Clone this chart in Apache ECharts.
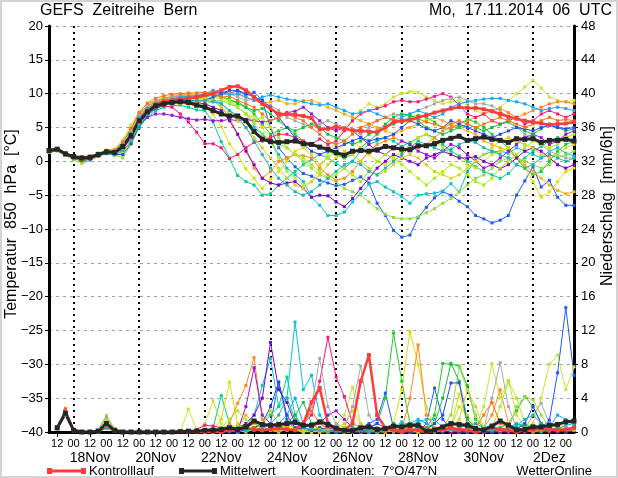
<!DOCTYPE html>
<html><head><meta charset="utf-8">
<script src="https://cdn.jsdelivr.net/npm/echarts@6/dist/echarts.min.js"></script>
<style>html,body{margin:0;padding:0;background:#fff}#c{width:618px;height:478px}</style>
</head><body><div id="c"></div>
<script>
// ---- axis / tick labels ----
const hourLabels = ['12', '00'];
const dateLabels = ['18Nov','20Nov','22Nov','24Nov','26Nov','28Nov','30Nov','2Dez'];
const startUTC = [2014, 10, 17, 6];   // 17.11.2014 06 UTC
const stepCount = 65;                  // 6-hourly steps to 03.12. 06 UTC
const categories = [];
for (let i = 0; i < stepCount; i++) {
  const d = new Date(Date.UTC(startUTC[0], startUTC[1], startUTC[2], startUTC[3] + 6 * i));
  categories.push(String(d.getUTCDate()).padStart(2,'0') + '.' + String(d.getUTCMonth()+1).padStart(2,'0') + '. ' + String(d.getUTCHours()).padStart(2,'0'));
}

// ---- temperature 850 hPa [°C] ----
const meanT = [1.6,1.8,1.1,0.7,0.5,0.6,1.0,1.4,1.3,2.2,3.8,6.0,7.3,8.2,8.5,8.7,8.8,8.7,8.3,8.0,7.5,7.0,6.7,6.7,6.0,4.4,3.3,2.9,2.8,2.9,3.0,2.6,2.5,2.1,1.8,1.3,0.9,1.5,1.6,1.5,1.7,2.2,2.0,1.8,1.7,2.3,2.3,2.6,3.1,3.4,3.7,3.1,3.35,3.6,3.25,3.1,2.8,3.35,3.25,3.35,2.8,3.1,3.1,3.25,3.0];
const ctrlT = [1.5,1.7,1.1,0.6,0.4,0.5,1.0,1.4,1.3,2.2,3.9,6.2,7.5,8.4,8.8,9.0,9.2,9.3,9.5,9.8,10.0,10.5,11.0,11.1,10.5,9.5,8.5,7.8,7.0,7.0,6.9,6.7,6.4,4.7,4.8,5.1,4.8,4.6,4.5,4.4,4.3,5.0,5.8,6.0,6.1,6.5,6.8,7.2,7.5,7.8,8.0,7.9,7.9,7.7,7.4,7.0,6.6,6.3,6.0,5.8,5.6,5.4,5.5,5.6,5.8];
const m01T = [1.3,1.6,1.1,0.6,0.5,0.6,1.1,1.6,1.6,2.8,4.8,7.0,8.2,8.9,9.3,9.5,9.6,9.5,9.3,9.6,10.0,10.3,10.1,10.4,9.8,10.2,9.0,5.0,2.0,0.5,-0.8,-1.8,-2.2,-2.8,-3.2,-3.6,-3.4,-2.8,-2.3,-3.2,-6.2,-8.0,-10.2,-11.2,-10.9,-8.3,-6.8,-5.4,-4.5,-5.0,-5.9,-6.7,-8.0,-8.5,-9.1,-8.7,-8.0,-5.0,-2.9,-0.8,-3.8,-2.8,-5.3,-6.5,-6.5];
const m02T = [1.5,1.7,1.0,0.5,0.3,0.4,0.9,1.3,1.2,2.0,3.6,5.8,7.2,8.1,8.5,8.8,9.0,9.0,8.8,9.0,9.2,8.5,7.5,6.8,6.0,5.0,4.0,3.1,1.0,-1.0,-2.0,-3.0,-5.3,-6.5,-8.0,-8.0,-7.5,-6.0,-4.8,-3.4,-3.0,-3.8,-4.5,-5.2,-6.2,-5.0,-4.8,-4.7,-4.4,-3.3,-4.5,-1.6,0.2,1.0,1.4,1.5,1.2,2.0,1.5,1.0,0.5,1.5,2.0,1.2,0.8];
const m03T = [1.6,1.8,1.2,0.7,0.4,0.5,0.8,1.1,0.9,1.4,2.8,5.0,6.5,7.5,8.0,8.2,8.3,8.0,7.6,7.5,5.8,2.9,0.5,-2.1,-3.0,-3.5,-5.0,-4.8,-3.5,-2.5,-1.5,-0.5,0.3,1.0,0.5,-0.3,-1.0,0.0,1.5,2.5,3.0,3.5,3.0,2.2,2.8,3.5,4.0,3.5,2.5,1.5,0.8,0.0,-0.8,-1.5,-2.0,-2.5,-1.8,-0.5,0.5,1.5,2.2,3.0,3.5,3.2,3.0];
const m04T = [1.7,1.9,1.2,0.8,0.6,0.7,1.1,1.5,1.5,2.5,4.2,6.5,7.8,8.6,9.0,9.2,9.5,9.6,9.7,9.5,9.8,9.5,9.2,8.5,8.0,7.0,5.5,4.0,4.5,5.0,4.0,3.0,2.5,2.0,1.5,1.0,0.5,1.0,2.0,3.0,4.0,5.0,5.5,6.0,6.5,6.8,6.5,5.8,5.0,4.8,5.5,6.2,5.8,5.0,4.0,3.0,2.0,0.5,-1.0,-2.0,-1.5,0.0,1.5,2.5,3.0];
const m05T = [1.4,1.5,0.9,0.2,-0.3,0.1,0.7,1.2,1.0,0.5,2.5,5.5,7.0,7.8,8.3,8.5,8.6,8.5,8.2,8.5,8.8,9.0,8.5,8.0,7.0,5.5,4.0,3.0,2.5,2.0,1.0,0.0,-1.0,-2.0,-2.5,-3.0,-4.0,-4.5,-5.0,-6.0,-7.0,-7.8,-8.3,-8.5,-8.5,-8.2,-7.6,-7.0,-6.2,-5.5,-4.5,-3.5,-2.5,-2.0,-1.0,0.0,0.5,0.5,0.0,-0.5,-1.0,-0.5,0.5,1.0,1.5];
const m06T = [1.5,1.8,1.2,0.7,0.6,0.7,1.2,1.7,1.8,3.2,5.4,7.4,8.5,9.0,9.2,9.3,9.3,9.2,9.0,9.0,9.5,9.2,8.8,8.0,7.0,6.5,5.0,3.0,0.5,-1.5,-2.5,-3.5,-3.0,-1.0,1.0,3.0,5.0,6.0,7.5,8.5,8.0,8.5,9.5,10.0,10.3,10.2,9.5,9.0,8.5,8.8,9.0,8.2,7.5,7.0,7.5,8.0,9.0,10.0,11.0,12.0,10.8,9.5,9.0,8.8,9.0];
const m07T = [1.6,1.7,1.1,0.6,0.4,0.5,0.9,1.3,1.1,1.9,3.6,6.2,7.6,8.3,8.6,8.7,8.6,8.4,8.2,8.0,7.0,5.1,2.6,1.0,-1.1,-2.5,-4.0,-2.6,-1.5,0.0,1.5,2.0,1.0,-0.5,0.5,1.5,2.5,3.0,2.0,1.0,0.0,-0.5,0.5,1.5,2.5,3.5,4.0,3.0,2.0,1.0,0.5,-0.5,-1.0,0.0,1.0,1.5,2.0,1.0,-1.0,-3.0,-5.3,-4.5,-3.0,-1.5,-1.0];
const m08T = [1.6,1.8,1.2,0.7,0.5,0.6,1.0,1.5,1.4,2.4,4.3,6.6,8.0,8.8,9.2,9.5,9.7,9.8,9.7,9.5,9.0,8.0,6.5,4.0,2.0,-1.0,-2.5,-1.5,0.0,0.5,1.0,0.8,0.5,-1.0,-2.0,-2.8,-2.5,-1.5,0.0,1.5,2.5,3.0,3.5,3.0,2.5,2.0,2.5,3.5,4.5,5.0,5.5,6.0,6.5,7.0,7.5,7.8,7.2,6.5,7.0,7.5,8.0,8.5,8.8,8.8,8.5];
const m09T = [1.4,1.6,1.0,0.6,0.4,0.6,1.0,1.5,1.5,2.6,4.5,6.8,8.2,9.0,9.4,9.6,9.8,9.9,9.9,10.0,10.3,10.5,10.2,9.8,9.5,9.0,8.5,8.8,9.0,8.5,8.5,9.0,9.0,8.5,8.0,7.5,7.0,6.5,6.0,5.5,5.0,4.5,4.0,4.5,5.0,5.5,6.0,6.5,6.0,5.5,5.0,4.5,4.0,3.0,2.5,2.0,1.5,0.5,-0.5,-1.5,-2.5,-3.5,-4.3,-4.8,-4.5];
const m10T = [1.5,1.6,1.0,0.6,0.5,0.6,1.0,1.4,1.2,1.8,3.4,5.6,7.0,7.8,8.2,8.0,7.0,5.8,4.3,2.6,2.6,2.0,0.4,1.0,2.0,2.8,3.0,3.5,4.0,4.0,3.5,3.0,2.5,3.3,2.5,3.0,4.5,6.0,7.0,7.5,7.8,8.2,8.8,9.0,8.8,8.8,9.2,9.6,10.0,9.5,8.3,7.0,6.5,7.0,6.0,5.5,6.0,6.5,5.5,6.0,7.0,7.5,7.0,6.5,7.0];
const m11T = [1.5,1.6,1.0,0.5,0.4,0.5,1.0,1.4,1.3,2.0,3.5,5.4,6.5,7.0,7.0,6.8,6.5,6.3,6.1,6.2,6.0,6.0,6.2,6.0,6.2,6.0,5.8,6.0,6.5,7.2,7.4,8.0,7.0,6.0,5.0,4.5,5.0,4.5,3.5,2.5,1.5,1.0,2.0,3.0,2.5,1.5,1.0,0.5,1.5,2.5,2.0,1.0,0.0,-1.0,-0.5,0.5,1.5,2.5,3.5,4.0,3.5,2.5,3.0,4.0,4.5];
const m12T = [1.5,1.7,1.0,0.5,0.3,0.4,0.9,1.3,1.2,2.0,3.6,5.8,7.2,8.1,8.5,8.8,9.0,8.9,8.7,8.5,8.0,7.5,6.0,4.0,1.5,-0.5,-2.5,-3.2,-3.5,-3.2,-3.0,-4.0,-5.3,-5.0,-5.1,-6.0,-6.7,-5.5,-4.0,-2.5,-1.0,0.0,1.0,0.5,0.0,-0.5,0.5,1.0,1.5,1.0,0.5,0.5,0.7,0.0,-0.5,-1.1,-0.5,0.5,1.5,2.0,1.5,0.5,-0.5,-1.0,-0.5];
const m13T = [1.3,1.6,1.1,0.6,0.5,0.6,1.1,1.6,1.6,2.8,4.8,7.0,8.2,8.9,9.3,9.5,9.6,9.5,9.3,9.2,9.5,9.8,10.0,9.5,9.0,9.2,8.5,8.3,7.5,6.5,6.0,5.5,5.0,5.5,6.0,5.5,5.0,4.5,4.0,5.0,6.0,6.5,7.0,6.8,7.0,7.5,8.0,8.5,9.0,9.3,9.5,9.0,8.5,8.5,8.2,7.5,6.5,5.0,4.0,3.5,2.5,1.5,1.0,0.5,0.5];
const m14T = [1.7,1.9,1.2,0.8,0.6,0.7,1.1,1.5,1.5,2.5,4.2,6.5,7.8,8.6,9.0,9.2,9.5,9.6,9.7,10.0,10.5,10.2,9.8,10.0,9.5,9.0,9.5,9.8,9.5,9.2,9.0,8.8,8.5,8.3,8.5,8.0,7.5,7.0,7.2,7.5,7.0,6.5,6.0,6.5,7.0,7.5,7.0,6.5,7.0,8.0,8.5,8.8,9.0,9.2,9.3,9.3,9.0,8.8,8.5,8.0,7.5,7.8,8.0,7.8,7.5];
const m15T = [1.6,1.8,1.1,0.6,0.4,0.5,1.0,1.4,1.3,2.3,4.0,6.3,7.6,8.5,8.9,9.1,9.3,9.4,9.5,9.8,10.0,9.6,9.0,8.8,8.0,7.5,7.8,7.0,6.0,5.0,4.5,5.0,5.5,5.0,4.0,3.5,3.0,2.5,3.0,4.0,4.5,5.5,6.5,7.0,6.8,6.0,5.0,4.5,4.0,4.5,5.0,5.5,5.0,4.5,5.0,5.5,5.8,5.0,4.5,4.0,4.8,5.5,5.0,4.5,4.8];
const m16T = [1.4,1.6,1.0,0.4,0.0,0.3,0.8,1.3,1.1,1.2,3.0,5.8,7.3,8.2,8.7,8.9,9.0,8.9,8.8,9.0,9.5,9.5,9.0,8.0,7.0,6.0,6.5,5.0,3.5,2.0,1.0,0.5,-0.5,-1.5,-2.5,-2.0,-1.0,-2.0,-3.0,-1.5,0.0,1.0,0.5,-0.5,-1.5,-2.5,-3.5,-2.5,-1.5,-0.5,-1.0,-2.0,-3.0,-3.5,-2.5,-1.0,0.0,1.0,2.0,3.0,2.5,2.0,2.5,3.5,4.0];
const m17T = [1.5,1.7,1.0,0.4,0.1,0.3,0.8,1.2,1.0,1.0,2.6,5.2,6.8,7.8,8.4,8.7,8.9,9.0,9.0,9.0,9.5,10.0,10.5,10.5,10.0,9.5,9.0,8.0,6.5,5.0,3.5,2.5,1.5,1.0,1.5,2.0,2.5,3.0,3.5,3.0,3.3,3.5,4.0,5.0,6.0,5.5,4.8,4.5,5.0,6.0,5.5,5.0,4.5,4.0,3.5,4.0,4.5,5.0,4.8,4.5,5.0,5.3,5.0,4.8,5.0];
const m18T = [1.6,1.9,1.3,0.8,0.6,0.8,1.2,1.6,1.7,2.9,4.9,7.2,8.6,9.3,9.7,9.9,10.0,10.1,10.1,10.2,10.0,9.5,9.6,9.0,8.5,8.0,7.0,6.0,6.5,7.0,6.5,6.0,5.0,4.0,3.0,2.5,3.0,4.0,5.0,5.5,6.0,6.5,6.2,5.8,6.0,6.3,5.8,5.5,5.0,5.5,6.0,5.5,5.0,5.5,6.0,6.5,6.0,5.5,5.0,5.5,6.0,6.5,6.0,6.2,6.0];
const m19T = [1.5,1.7,1.1,0.5,0.3,0.5,0.9,1.3,1.2,2.1,3.8,6.1,7.5,8.4,8.8,9.0,9.2,9.3,9.3,9.3,9.0,8.0,7.0,6.0,5.0,3.5,2.0,0.5,-1.0,-2.5,-3.5,-4.0,-3.0,-2.0,-0.5,0.5,1.5,1.0,0.0,-1.0,-2.0,-1.5,-0.5,0.5,1.0,0.5,-0.5,-1.5,-2.0,-2.5,-2.0,-1.0,0.0,1.0,2.0,3.0,3.5,3.0,2.5,2.0,1.0,0.5,1.0,2.0,2.5];
const m20T = [1.6,1.8,1.2,0.7,0.5,0.6,0.9,1.2,1.0,1.6,3.0,5.3,6.9,7.9,8.4,8.6,8.8,8.9,9.0,9.0,8.8,8.5,7.5,6.5,5.0,3.0,1.0,-1.0,-2.5,-3.5,-4.5,-5.0,-4.5,-3.5,-2.5,-1.5,-0.5,0.0,-0.5,-1.5,-2.0,-1.0,0.0,1.0,2.0,3.0,2.5,2.0,1.5,1.8,2.5,3.0,2.8,2.0,1.5,1.0,0.5,-0.5,-1.0,-0.5,0.5,1.0,0.5,0.0,0.5];

// ---- precipitation [mm/6h] ('-' = no value at start) ----
const meanP = ['-',0.5,2.2,0.2,0,0,0.1,1.0,0.2,0, 0,0,0,0,0,0,0.05,0.1,0.1,0.2, 0.2,0.3,0.5,0.3,0.6,1.3,0.9,0.8,0.9,1.0, 1.15,0.8,0.8,1.2,0.9,0.45,0.2,0.15,0.5,0.6, 0.3,0.4,0.7,0.6,0.8,0.8,0.1,0.25,0.6,1.0, 0.9,0.8,0.4,0.25,0.7,1.3,0.8,0.25,0.3,0.6, 0.6,0.8,0.9,1.2,1.3];
const ctrlP = ['-',0.5,2.4,0.2,0,0,0.1,0.8,0.2,0, 0,0,0,0,0,0,0,0,0,0, 0,0,0.2,0.3,0.5,0.3,0.2,0.3,0.5,0.3, 0.2,1.0,3.5,5.2,1.0,0.3,0.2,1.0,6.0,9.1, 2.0,0.5,0.2,0,0.3,0.2,0,0.2,0.3,0.5, 0.3,0.2,0,0.2,0.5,0.3,0.2,0,0.2,0.3, 0.5,0.3,0.2,0.3,0.5];
const m01P = ['-',0.5,2.4,0.2,0,0,0.1,1.2,0.2,0, 0,0,0,0,0,0,0,0,0,0, 0,0,0,0,0.2,0.5,0.3,1.0,5.9,1.5, 0.3,0,0.2,0.5,0.3,0,0,0,0.5,1.0, 1.5,4.6,0.5,0.2,0,0,1.0,5.2,1.5,0.3, 0,0,0.2,0,0,0.3,0.2,0,0.5,0.8, 0.5,1.4,7.0,14.7,6.7];
const m02P = ['-',0.4,2.6,0.1,0,0,0,0.8,0.1,0, 0,0,0,0,0,0,0,0,0,0, 0,0.2,0.3,0,0.5,2.0,5.5,8.7,3.0,4.0, 13.0,5.0,6.7,2.0,0.5,0.2,0,0,0,0.3, 0.2,0,0.5,1.2,0.8,1.2,1.5,1.5,0.5,0.2, 0,0,0.3,0.5,0.8,0.3,0,0.2,0.5,0.6, 0.8,0.5,1.0,1.2,1.0];
const m03P = ['-',0.5,2.7,0.2,0,0,0,0.6,0.1,0, 0,0,0,0,0,0,0,0,0,0.2, 0.5,4.3,1.0,0.2,0,0.5,1.0,2.0,3.0,6.5, 2.0,0.5,0,0.3,0.5,0,0,0,0,0, 0,0.2,0.5,0,0,0,0.2,0,0,0.5, 0.3,0,0,0,0,0,0.5,1.0,0.5,0, 0,0.3,0.5,0.2,0.5];
const m04P = ['-',0.5,2.3,0.2,0,0,0.1,1.0,0.2,0, 0,0,0,0,0,0,0,0,0,0, 0,0,0.3,0,0.5,1.0,0.5,0.3,1.0,0.5, 0.2,0.5,0,0.2,0,0,0,0,0.2,0.5, 1.0,4.0,11.7,6.0,1.0,0.3,0.5,2.0,8.1,8.0, 7.8,5.5,1.5,0.5,0.2,0.5,1.0,2.5,4.2,3.0, 1.0,0.5,0.2,0.5,0.3];
const m05P = ['-',0.6,2.5,0.3,0,0,0.2,1.5,0.3,0, 0,0,0,0,0,0,0,0,0,0, 0,0.3,0.5,0.2,0,0.3,0.5,0.2,0,0.3, 0.5,0,0.2,0,0,0.3,0,0,0.2,0, 0,0.3,0,0,0.5,0,0,0.3,0.5,2.0, 7.7,5.0,2.0,0.5,0.3,0.5,0.3,3.0,4.2,3.8, 2.0,0.5,0.3,0,0.2];
const m06P = ['-',0.5,2.6,0.2,0,0,0.3,2.0,0.4,0, 0,0,0,0,0,0,0,2.7,0.3,1.0, 3.7,1.0,0.2,0,0.3,0.5,0.5,0.3,0.2,0.5, 0.3,0,0,0.2,0.5,0.8,2.0,5.3,1.0,0.3, 0,0,0.3,0.5,0,0,0.2,0.3,0.5,0.2, 0,0.3,0.5,3.0,8.1,4.0,6.1,2.0,0.5,1.0, 4.0,8.0,9.1,5.0,7.7];
const m07P = ['-',0.4,2.4,0.2,0,0,0.1,0.8,0.1,0, 0,0,0,0,0,0,0,0,0,0, 0.2,1.5,5.9,1.0,0.3,0.5,0.2,0.3,0.5,0.8, 0.5,0.3,0,0,0.2,0.3,0.5,0.2,0,0, 0.3,0.5,1.0,5.0,11.9,8.0,3.0,0.5,0.2,0.5, 4.5,1.0,0.3,0,0.2,0.3,0.5,0.2,0,0.2, 0.3,0.5,0.3,0.2,0.5];
const m08P = ['-',0.5,2.8,0.2,0,0,0,0.5,0.1,0, 0,0,0,0,0,0,0,0,0,0, 0,0.2,1.0,3.4,5.5,8.8,1.5,0.3,0.2,0.5, 0.3,0.2,0.5,1.0,0.5,0.2,0,0.3,0.5,0.2, 0,0.2,0.5,0.3,4.0,10.3,2.0,0.5,0.3,0, 0.2,0.5,0.3,0.5,2.0,5.0,1.0,0.3,0.2,0, 0.2,0.3,0.5,0.3,0.2];
const m09P = ['-',0.4,2.2,0.2,0,0,0,0.4,0.1,0, 0,0,0,0,0,0,0,0,0,0, 0,0,0.3,0.5,2.0,1.0,0.3,0.2,0,0.5, 1.5,0.5,0.2,0,0,0.2,0,0,0.3,0.2, 0,0,0.2,0.5,0.3,0,0,0.2,0.3,0.2, 0.5,0.3,1.0,0.5,0.2,0,0.3,0.5,0.2,0.3, 0.5,0.8,0.5,0.3,0.5];
const m10P = ['-',0.5,2.3,0.2,0,0,0.1,0.6,0.1,0, 0,0,0,0,0,0,0,0,0.3,0.8, 0.7,0.5,0.3,0.2,0.5,0.3,0.2,0.5,0.3,0.2, 0.5,1.0,2.0,6.0,11.2,6.5,4.2,1.0,0.5,0.3, 0.2,0.5,0.3,0,0.2,0,0,0.3,0.2,0, 0,0.2,0,0,0.2,0.3,0,0,0.3,0.5, 0.2,0,0.5,0.3,0.2];
const m11P = ['-',0.5,2.5,0.2,0,0,0.1,1.0,0.2,0, 0,0,0,0,0,0,0,0,0,0, 0,0.3,0.5,0.2,3.0,7.6,2.0,1.0,0.5,0.3, 0.2,0.5,0.8,1.0,2.0,2.5,1.5,0.5,0.3,0, 0,0.3,0.5,0.2,0,0.3,0.5,0.2,0,0.2, 0.3,0,0.2,0.5,0.3,0,0,0.2,0.3,0.5, 0.3,0.2,0,0.2,0.3];
const m12P = ['-',0.4,2.4,0.2,0,0,0.1,0.7,0.1,0, 0,0,0,0,0,0,0,0,0,0, 0,0,0.2,0.5,1.0,2.0,4.0,10.6,5.0,3.5, 1.0,0.5,0.2,0.3,0.5,0.3,0.2,0,0,0.2, 0.3,0.5,0.2,0,0,0.2,0.3,0.5,0.2,0, 0,0.2,0.3,0,0,0.2,0.5,0.3,0,0.2, 0.3,0.5,0.2,0,0.2];
const m13P = ['-',0.6,2.0,0.3,0,0,0.3,1.8,0.3,0, 0,0,0,0,0,0,0,0,0,0, 0,0,0.2,0.3,0.5,0.3,0.2,0.5,0.3,0.2, 0.5,0.8,3.0,8.7,3.0,1.0,0.5,3.0,7.8,2.0, 0.5,0.2,0,0.3,0.5,0.3,0,0,0.2,0.5, 0.3,0.5,0.2,0.5,4.0,8.2,3.0,0.5,0.3,2.0, 3.4,1.0,0.5,0.3,0.2];
const m14P = ['-',0.5,2.6,0.2,0,0,0,0.5,0.1,0, 0,0,0,0,0,0,0,0,0,0, 0,0,0.2,0.3,0.5,0.3,0.2,0.5,1.0,2.0, 4.0,1.0,0.5,0.3,0.2,0,0.3,0.5,0.2,0, 0.2,0.3,0.5,0.8,1.0,1.5,1.0,0.5,0.3,0.2, 0.5,0.8,1.0,0.5,0.3,0.2,0.5,0.8,1.0,0.5, 0.3,0.5,2.0,1.5,0.8];
const m15P = ['-',0.5,2.4,0.2,0,0,0.1,0.9,0.2,0, 0,0,0,0,0,0,0,0,0,0, 0,0.2,0.5,0.3,0.2,0.5,0.3,0.2,0.5,1.0, 2.0,3.5,1.0,0.3,0.2,0,0,0.2,0.5,0.3, 0.2,0.5,1.0,0.5,0.3,0.2,0.5,1.0,4.0,8.1, 6.0,1.5,0.5,0.3,0.5,0.2,0.3,0.5,0.8,0.5, 0.3,0.2,0.5,0.3,0.5];
const m16P = ['-',0.5,2.5,0.3,0,0,0.2,1.3,0.2,0, 0,0,0,0,0,0,0,0,0,0, 0.3,0.5,1.5,2.5,1.5,0.5,0.3,0.2,0.5,0.3, 0.2,0,0.3,0.5,0.3,0.2,0.5,1.0,0.5,0.3, 0.2,0,0.3,0.5,0.2,0,0.2,0.5,0.3,0.5, 3.0,2.0,0.5,0.3,0.5,3.0,6.0,4.0,1.0,0.5, 0.3,0.5,1.0,0.5,0.3];
const m17P = ['-',0.4,2.3,0.2,0,0,0.1,1.0,0.2,0, 0,0,0,0,0,0,0,0,0,0, 0,0,0.2,0,0.3,0.5,1.0,3.0,5.9,2.0, 0.5,0.3,0.2,0.5,0.3,0,0,0.2,0.3,0.5, 1.0,0.5,0.2,0,0.2,0.5,0.3,1.0,2.0,5.8, 5.8,1.0,0.3,0.2,0,0.3,0.5,0.3,1.0,3.0, 1.0,0.5,0.3,0.2,0.5];
const m18P = ['-',0.5,2.7,0.2,0,0,0,0.6,0.1,0, 0,0,0,0,0,0,0,0,0,0, 0,0.2,0.3,0.5,0.3,0.5,0.2,0.3,0.2,0.5, 0.3,1.0,2.5,1.0,0.3,0.2,0,0.3,0.5,0.3, 0.2,0,0.3,0.2,0.5,0.8,0.5,0.3,0.2,0.5, 0.3,0.2,0.5,2.0,3.5,1.0,0.5,0.3,0.2,0, 0.2,0.5,0.3,0.5,0.3];
const m19P = ['-',0.5,2.2,0.2,0,0,0.1,0.7,0.1,0, 0,0,0,0,0,0,0,0,0,0, 0,0.3,0.5,0.8,0.5,0.3,1.0,2.5,1.0,0.5, 0.3,0.2,0.5,0.3,0.2,0.5,1.0,2.5,1.0,0.3, 0.2,0.3,0.5,0.8,0.5,0.3,0.2,0.5,0.3,0.2, 1.5,5.0,3.0,0.5,0.3,0.2,0.5,0.3,0.2,0.3, 0.5,0.3,0.2,0.5,0.3];
const m20P = ['-',0.5,2.5,0.2,0,0,0,0.5,0.1,0, 0,0,0,0,0,0,0,0,0,0, 0,0.2,0.3,0.5,0.3,0.2,0.5,1.0,2.0,4.0, 1.5,0.5,0.3,0.2,0,0.2,0.3,0.5,0.3,0.2, 0,0.2,0.5,0.8,1.0,0.5,0.3,0.2,0.5,0.3, 0.2,0.3,0.5,0.3,0.2,0.5,0.3,0.8,1.5,2.0, 1.0,0.5,0.3,0.8,1.0];

const memberColors = ['#1a5cff','#00c4d4','#00d08c','#22cc22','#90dc40','#c8e632','#e0dc00','#ff8a1a','#ffac10','#ff1478',
                      '#9a10e0','#8000cc','#a8a8a8','#10a8ff','#10c040','#a8ee10','#2848f0','#ff7010','#d8d020','#18b8b0'];
const memberT = [m01T,m02T,m03T,m04T,m05T,m06T,m07T,m08T,m09T,m10T,m11T,m12T,m13T,m14T,m15T,m16T,m17T,m18T,m19T,m20T];
const memberP = [m01P,m02P,m03P,m04P,m05P,m06P,m07P,m08P,m09P,m10P,m11P,m12P,m13P,m14P,m15P,m16P,m17P,m18P,m19P,m20P];

const FONT = '"Liberation Sans", Arial, sans-serif';
const ctrlColor = '#ff3c3c', meanColor = '#262626';

function lineSeries(data, color, axis, kind) {
  const w = kind === 'mean' ? 3 : (kind === 'ctrl' ? 2.5 : 1);
  const s = kind === 'mean' ? 5 : (kind === 'ctrl' ? 4 : 3);
  return {
    type: 'line', data: data, yAxisIndex: axis, xAxisIndex: 0,
    symbol: 'rect', symbolSize: s, showAllSymbol: true,
    itemStyle: { color: color }, lineStyle: { color: color, width: w },
    animation: false, silent: true, connectNulls: false
  };
}
const series = [];
for (let k = 0; k < memberT.length; k++) {
  series.push(lineSeries(memberT[k], memberColors[k], 0, 'member'));
  series.push(lineSeries(memberP[k], memberColors[k], 1, 'member'));
}
series.push(lineSeries(ctrlT, ctrlColor, 0, 'ctrl'));
series.push(lineSeries(ctrlP, ctrlColor, 1, 'ctrl'));
series.push(lineSeries(meanT, meanColor, 0, 'mean'));
series.push(lineSeries(meanP, meanColor, 1, 'mean'));

const chart = echarts.init(document.getElementById('c'), null, { renderer: 'canvas' });
chart.setOption({
  animation: false,
  backgroundColor: '#ffffff',
  textStyle: { fontFamily: FONT },
  grid: { left: 49, right: 44, top: 26, bottom: 46, outerBoundsMode: 'none', containLabel: false },
  xAxis: [{
    type: 'category', data: categories, boundaryGap: false,
    axisLine: { show: true, onZero: false, lineStyle: { color: '#000', width: 3 } },
    axisTick: { show: true, interval: (i) => i % 4 === 1, length: 5, lineStyle: { color: '#000', width: 1 } },
    axisLabel: {
      show: true, interval: (i) => i % 2 === 1 || i === stepCount - 1, margin: 5, color: '#000', fontFamily: FONT,
      formatter: (v, i) => {
        if (i === stepCount - 1) return '{u|UTC}';
        const h = hourLabels[((i - 1) / 2) % 2];
        if ((i - 5) % 8 === 0) return '{h|' + h + '}\n{d|' + dateLabels[(i - 5) / 8] + '}';
        return '{h|' + h + '}';
      },
      rich: {
        h: { fontSize: 11, lineHeight: 13, fontFamily: FONT, color: '#000' },
        u: { fontSize: 11, lineHeight: 13, fontFamily: FONT, color: '#000', padding: [0, 0, 0, 8] },
        d: { fontSize: 14, lineHeight: 17, fontFamily: FONT, color: '#000' }
      }
    },
    splitLine: { show: true, interval: (i) => i % 8 === 3, lineStyle: { color: '#000', width: 2, type: [2, 4] } }
  }],
  yAxis: [{
    type: 'value', min: -40, max: 20, interval: 5, position: 'left',
    axisLine: { show: true, lineStyle: { color: '#000', width: 3 } },
    axisTick: { show: true, length: 4, lineStyle: { color: '#000' } },
    axisLabel: { color: '#000', fontSize: 13, margin: 6, fontFamily: FONT, formatter: (v) => v < 0 ? '\u2212' + Math.abs(v) : String(v) },
    splitLine: { show: true, lineStyle: { color: '#a0a0a0', width: 1, type: [3, 4] } }
  }, {
    type: 'value', min: 0, max: 48, interval: 4, position: 'right',
    axisLine: { show: true, lineStyle: { color: '#000', width: 3 } },
    axisTick: { show: true, length: 4, lineStyle: { color: '#000' } },
    axisLabel: { color: '#000', fontSize: 13, margin: 7, fontFamily: FONT },
    splitLine: { show: false }
  }],
  series: series,
  graphic: [
    { type: 'rect', silent: true, z: 100, shape: { x: 1, y: 1, width: 616, height: 476 }, style: { fill: 'none', stroke: '#d4d4d4', lineWidth: 2 } },
    { type: 'text', silent: true, x: 40, y: 11, style: { text: 'GEFS  Zeitreihe  Bern', fontSize: 16, fontFamily: FONT, fill: '#000', align: 'left', verticalAlign: 'middle' } },
    { type: 'text', silent: true, x: 612, y: 11, style: { text: 'Mo,  17.11.2014  06  UTC', fontSize: 16, fontFamily: FONT, fill: '#000', align: 'right', verticalAlign: 'middle' } },
    { type: 'text', silent: true, x: 12, y: 224, rotation: Math.PI / 2, style: { text: 'Temperatur  850  hPa  [°C]', fontSize: 16, fontFamily: FONT, fill: '#000', align: 'center', verticalAlign: 'middle' } },
    { type: 'text', silent: true, x: 608, y: 206, rotation: Math.PI / 2, style: { text: 'Niederschlag  [mm/6h]', fontSize: 16, fontFamily: FONT, fill: '#000', align: 'center', verticalAlign: 'middle' } },
    { type: 'line', silent: true, shape: { x1: 50, y1: 471, x2: 82, y2: 471 }, style: { stroke: ctrlColor, lineWidth: 3 } },
    { type: 'rect', silent: true, shape: { x: 47, y: 468, width: 5, height: 6 }, style: { fill: ctrlColor } },
    { type: 'rect', silent: true, shape: { x: 81, y: 468, width: 5, height: 6 }, style: { fill: ctrlColor } },
    { type: 'text', silent: true, x: 89, y: 471, style: { text: 'Kontrolllauf', fontSize: 13, fontFamily: FONT, fill: '#000', align: 'left', verticalAlign: 'middle' } },
    { type: 'line', silent: true, shape: { x1: 182, y1: 471, x2: 214, y2: 471 }, style: { stroke: meanColor, lineWidth: 3 } },
    { type: 'rect', silent: true, shape: { x: 179, y: 468, width: 5, height: 6 }, style: { fill: meanColor } },
    { type: 'rect', silent: true, shape: { x: 212, y: 468, width: 5, height: 6 }, style: { fill: meanColor } },
    { type: 'text', silent: true, x: 220, y: 471, style: { text: 'Mittelwert', fontSize: 13, fontFamily: FONT, fill: '#000', align: 'left', verticalAlign: 'middle' } },
    { type: 'text', silent: true, x: 301, y: 471, style: { text: 'Koordinaten:  7°O/47°N', fontSize: 13, fontFamily: FONT, fill: '#000', align: 'left', verticalAlign: 'middle' } },
    { type: 'text', silent: true, x: 592, y: 471, style: { text: 'WetterOnline', fontSize: 13, fontFamily: FONT, fill: '#000', align: 'right', verticalAlign: 'middle' } }
  ]
});
</script></body></html>
